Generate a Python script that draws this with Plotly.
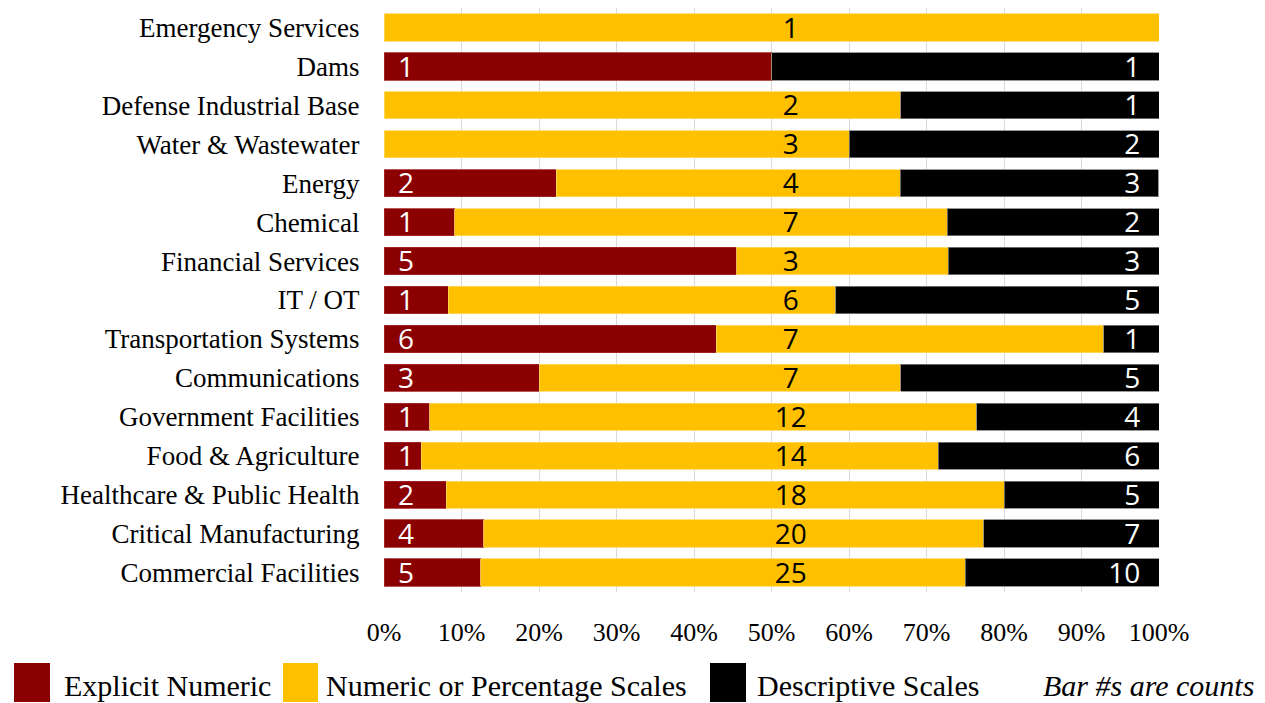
import plotly.graph_objects as go

# ---------------- data ----------------
categories = [
    "Emergency Services", "Dams", "Defense Industrial Base", "Water & Wastewater",
    "Energy", "Chemical", "Financial Services", "IT / OT", "Transportation Systems",
    "Communications", "Government Facilities", "Food & Agriculture",
    "Healthcare & Public Health", "Critical Manufacturing", "Commercial Facilities",
]
# shares of each bar (percent)
explicit_pct = [0, 50, 0, 0, 22.2, 9.1, 45.5, 8.3, 42.9, 20.0, 5.9, 4.8, 8.0, 12.9, 12.5]
scales_pct = [100, 0, 66.7, 60.0, 44.4, 63.6, 27.3, 50.0, 50.0, 46.7, 70.6, 66.7, 72.0, 64.5, 62.5]
descr_pct = [0, 50, 33.3, 40.0, 33.3, 27.3, 27.3, 41.7, 7.1, 33.3, 23.5, 28.6, 20.0, 22.6, 25.0]
# counts printed on the bars
explicit_cnt = [0, 1, 0, 0, 2, 1, 5, 1, 6, 3, 1, 1, 2, 4, 5]
scales_cnt = [1, 0, 2, 3, 4, 7, 3, 6, 7, 7, 12, 14, 18, 20, 25]
descr_cnt = [0, 1, 1, 2, 3, 2, 3, 5, 1, 5, 4, 6, 5, 7, 10]

series_names = ["Explicit Numeric", "Numeric or Percentage Scales", "Descriptive Scales"]
colors = ["#8B0000", "#FFC000", "#000000"]
x_ticks = [0, 10, 20, 30, 40, 50, 60, 70, 80, 90, 100]
x_ticktext = [f"{v}%" for v in x_ticks]
note_text = "Bar #s are counts"
# label columns (axis units): start of bar, fixed middle column, end of bar
LEFT_LABEL_X, MID_LABEL_X, RIGHT_LABEL_X = 0, 52.5, 100

SERIF = "Liberation Serif, Times New Roman, serif"
SANS = "Open Sans, Noto Sans, sans-serif"
LABEL_SIZE = 28
LABEL_SHIFT = 0.08  # small downward nudge of the count labels (in category units)

fig = go.Figure()

for vals, name, col, edge in zip([explicit_pct, scales_pct, descr_pct], series_names,
                                 colors, ["#A52A2A", "#FFD966", "#7F7F7F"]):
    fig.add_trace(go.Bar(
        y=categories, x=vals, orientation="h", name=name,
        marker=dict(color=col, line=dict(color=edge, width=0.8)),
        hoverinfo="skip",
    ))

label_sets = [
    (LEFT_LABEL_X, ["\u2002" + str(c) if c else "" for c in explicit_cnt], "middle right", "white"),
    (MID_LABEL_X, [str(c) if c else "" for c in scales_cnt], "middle center", "black"),
    (RIGHT_LABEL_X, [str(c) + "\u2002\u2009" if c else "" for c in descr_cnt], "middle left", "white"),
]
for xpos, texts, tpos, tcol in label_sets:
    fig.add_trace(go.Scatter(
        y=categories, x=[xpos] * len(categories), mode="text", yaxis="y2",
        text=texts, textposition=tpos,
        textfont=dict(family=SANS, size=LABEL_SIZE, color=tcol),
        hoverinfo="skip", showlegend=False, cliponaxis=False,
    ))

# ---------------- geometry (page pixels; page body has an 8px margin) ----------------
FIG_W, FIG_H = 1265, 703
OFF = 8
L, R, T, B = 384 - OFF, 1159 - OFF, 8 - OFF, 592 - OFF
W, H = R - L, B - T


def px_x(p):
    return (p - OFF - L) / W


def px_y(p):
    return (B - (p - OFF)) / H


# ---------------- manual legend (large swatches) ----------------
swatches = [(14, 50), (283, 318), (710, 746)]
text_x = [62, 324, 755]
shapes = []
annotations = []
for (x0, x1), tx, name, col in zip(swatches, text_x, series_names, colors):
    shapes.append(dict(type="rect", xref="paper", yref="paper",
                       x0=px_x(x0), x1=px_x(x1), y0=px_y(702), y1=px_y(663),
                       fillcolor=col, line=dict(width=0), layer="above"))
    annotations.append(dict(xref="paper", yref="paper", x=px_x(tx), y=px_y(685),
                            xanchor="left", yanchor="middle", text=name, showarrow=False,
                            font=dict(family=SERIF, size=30, color="black")))
annotations.append(dict(xref="paper", yref="paper", x=px_x(1041), y=px_y(685),
                        xanchor="left", yanchor="middle", text=f"<i>{note_text}</i>",
                        showarrow=False, font=dict(family=SERIF, size=30, color="black")))

n = len(categories)
fig.update_layout(
    width=FIG_W, height=FIG_H,
    margin=dict(l=L, r=FIG_W - R, t=T, b=FIG_H - B, autoexpand=False),
    barmode="stack", bargap=0.3,
    plot_bgcolor="white", paper_bgcolor="white",
    showlegend=False,
    shapes=shapes, annotations=annotations,
    xaxis=dict(range=[0, 100], tickvals=x_ticks, ticktext=x_ticktext, automargin=False,
               showgrid=True, gridcolor="#D9D9D9", gridwidth=1, zeroline=False,
               showline=False, ticks="outside", ticklen=17, tickcolor="rgba(0,0,0,0)",
               tickfont=dict(family=SERIF, size=26, color="black"), fixedrange=True),
    yaxis=dict(categoryorder="array", categoryarray=categories,
               range=[n - 0.5, -0.5],
               automargin=False, showgrid=False, zeroline=False, showline=False,
               ticks="outside", ticklen=18, tickcolor="rgba(0,0,0,0)",
               tickfont=dict(family=SERIF, size=27, color="black"), fixedrange=True),
    yaxis2=dict(overlaying="y", categoryorder="array", categoryarray=categories,
                range=[n - 0.5 - LABEL_SHIFT, -0.5 - LABEL_SHIFT],
                visible=False, automargin=False, fixedrange=True),
)

fig.write_html("out.html")
